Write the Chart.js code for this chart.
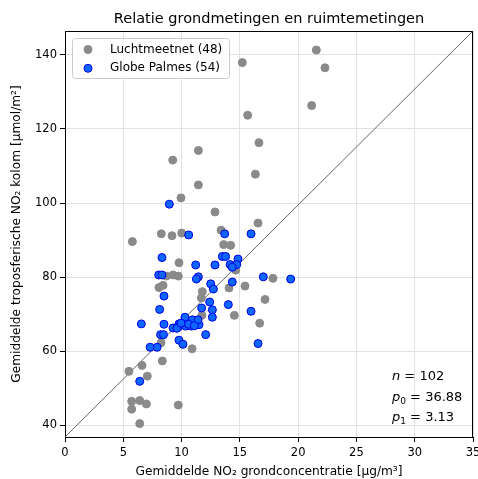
<!DOCTYPE html>
<html>
<head>
<meta charset="utf-8">
<script src="https://cdn.jsdelivr.net/npm/chart.js@4"></script>
<style>
  html,body{margin:0;padding:0;background:#fff;}
  canvas{display:block;}
</style>
</head>
<body>
<canvas id="grafiek" width="478" height="479"></canvas>
<script>
// fit parameters
const p0 = 36.88
const p1 = 3.13
const n = 102

const titel = "Relatie grondmetingen en ruimtemetingen"
const xTicks = [0, 5, 10, 15, 20, 25, 30, 35]
const yTicks = [40, 60, 80, 100, 120, 140]

// Luchtmeetnet (48)
const luchtX = [21.56, 22.3, 15.21, 21.16, 15.67, 16.64, 11.44, 9.24, 16.33, 11.44, 9.95, 12.87, 16.56, 13.39, 8.26, 9.18,
  10.01, 5.78, 13.61, 14.21, 9.78, 8.69, 9.27, 9.72, 14.64, 8.06, 8.41, 11.78, 11.7, 14.07, 15.44, 17.16,
  17.84, 11.75, 14.53, 16.7, 8.24, 10.9, 8.35, 5.49, 6.61, 7.06, 5.72, 5.72, 6.41, 6.98, 9.72, 6.41]
const luchtY = [141.3, 136.5, 137.9, 126.3, 123.7, 116.3, 114.2, 111.6, 107.8, 104.9, 101.4, 97.6, 94.6, 92.7, 91.7, 91.2,
  91.9, 89.6, 88.8, 88.6, 83.9, 80.3, 80.6, 80.3, 81.9, 77.2, 77.8, 76.1, 74.4, 77.1, 77.6, 74.0,
  79.7, 69.7, 69.7, 67.6, 62.3, 60.7, 57.4, 54.6, 56.2, 53.3, 46.5, 44.4, 46.7, 45.8, 45.5, 40.5]

// Globe Palmes (54)
const globeX = [8.95, 10.61, 13.7, 15.96, 8.32, 13.5, 13.78, 14.84, 11.21, 12.87, 14.16, 14.73, 14.35, 8.04, 8.32, 11.44,
  11.27, 17.01, 19.36, 12.5, 14.35, 12.73, 8.49, 12.41, 14.01, 8.12, 11.72, 12.64, 15.96, 12.64, 10.29, 6.55,
  8.49, 9.78, 11.5, 10.93, 11.41, 9.78, 9.27, 10.35, 10.84, 12.07, 8.2, 8.45, 9.78, 10.12, 7.9, 7.3,
  16.56, 6.41, 9.6, 9.95, 10.6, 11.1]
const globeY = [99.7, 91.4, 91.7, 91.7, 85.3, 85.6, 85.6, 84.9, 83.3, 83.3, 83.4, 83.4, 82.7, 80.6, 80.6, 80.1,
  79.5, 80.1, 79.5, 78.2, 78.7, 76.8, 74.9, 73.3, 72.6, 71.3, 71.7, 71.2, 70.8, 69.2, 69.2, 67.4,
  67.3, 67.4, 67.2, 68.5, 68.5, 66.8, 66.3, 66.8, 66.8, 64.5, 64.5, 64.5, 63.0, 61.9, 61.1, 61.1,
  62.1, 51.9, 66.2, 67.6, 67.3, 66.9]

const FONT = "'DejaVu Sans', sans-serif"

function punten(xs, ys){
  return xs.map((x, i) => ({x: x, y: ys[i]}))
}

// title over the plot, frame, legend box and fit text inside the plot
const overlay = {
  id: "overlay",
  afterDraw(chart){
    const ctx = chart.ctx
    const a = chart.chartArea
    ctx.save()

    ctx.fillStyle = "#000"
    ctx.font = "14.5px " + FONT
    ctx.textAlign = "center"
    ctx.textBaseline = "middle"
    ctx.fillText(titel, (a.left + a.right) / 2, a.top - 12)
    ctx.textAlign = "left"

    ctx.strokeStyle = "#000"
    ctx.lineWidth = 1
    ctx.beginPath()
    ctx.moveTo(Math.round(a.left) + 0.5, Math.round(a.top) + 0.5)
    ctx.lineTo(Math.round(a.right) - 0.5, Math.round(a.top) + 0.5)
    ctx.lineTo(Math.round(a.right) - 0.5, Math.round(a.bottom))
    ctx.stroke()

    // legend
    const lx = a.left + 7, ly = a.top + 7
    ctx.fillStyle = "rgba(255,255,255,0.8)"
    ctx.strokeStyle = "#cccccc"
    ctx.beginPath()
    ctx.roundRect(lx + 0.5, ly + 0.5, 157, 40, 3)
    ctx.fill()
    ctx.stroke()
    const sets = chart.data.datasets.filter(d => d.type !== "line")
    ctx.font = "12px " + FONT
    sets.forEach((d, i) => {
      const cy = ly + 11.5 + i * 18.8
      ctx.beginPath()
      ctx.arc(lx + 16, cy, 4, 0, Math.PI * 2)
      ctx.fillStyle = d.backgroundColor
      ctx.fill()
      ctx.strokeStyle = d.borderColor
      ctx.stroke()
      ctx.fillStyle = "#000"
      ctx.fillText(d.label, lx + 38, cy)
    })

    // fit text
    const tx = a.left + 327
    ctx.textBaseline = "alphabetic"
    const regels = [["n", "", " = " + n], ["p", "0", " = " + p0.toFixed(2)], ["p", "1", " = " + p1.toFixed(2)]]
    regels.forEach((r, i) => {
      const by = a.bottom - 57 + i * 20.5
      let x = tx
      ctx.font = "italic 13px " + FONT
      ctx.fillText(r[0], x, by)
      x += ctx.measureText(r[0]).width
      if (r[1]) {
        ctx.font = "9px " + FONT
        ctx.fillText(r[1], x, by + 3)
        x += ctx.measureText(r[1]).width
      }
      ctx.font = "13px " + FONT
      ctx.fillText(r[2], x, by)
    })
    ctx.restore()
  }
}

new Chart(document.querySelector("#grafiek"), {
  type: "scatter",
  data: {
    datasets: [
      {
        label: "Luchtmeetnet (48)",
        data: punten(luchtX, luchtY),
        backgroundColor: "#8a8a8a",
        borderColor: "#8a8a8a",
        borderWidth: 1,
        pointRadius: 4,
        order: 2
      },
      {
        label: "Globe Palmes (54)",
        data: punten(globeX, globeY),
        backgroundColor: "#0d66ff",
        borderColor: "#0000e6",
        borderWidth: 1,
        pointRadius: 4,
        order: 1
      },
      {
        type: "line",
        label: "fit",
        data: [{x: 0, y: p0}, {x: 35, y: p0 + p1 * 35}],
        borderColor: "#555555",
        borderWidth: 0.9,
        pointRadius: 0,
        showLine: true,
        order: 3
      }
    ]
  },
  options: {
    responsive: false,
    animation: false,
    devicePixelRatio: 1,
    layout: {padding: {left: 0, right: 4, top: 31, bottom: 0}},
    plugins: {
      legend: {display: false},
      tooltip: {enabled: false},
      title: {display: false}
    },
    scales: {
      x: {
        type: "linear",
        min: 0,
        max: 35,
        afterBuildTicks: s => { s.ticks = xTicks.map(v => ({value: v})) },
        afterFit: s => { s.height = 42; s.paddingLeft = 0; s.paddingRight = 0 },
        ticks: {color: "#000", font: {family: FONT, size: 11.5}, padding: 4, maxRotation: 0},
        grid: {color: "#e2e2e2", tickColor: "#000", tickLength: 5},
        border: {color: "#000"},
        title: {
          display: true,
          text: "Gemiddelde NO₂ grondconcentratie [μg/m³]",
          color: "#000",
          font: {family: FONT, size: 12.2},
          padding: {top: 2, bottom: 0}
        }
      },
      y: {
        type: "linear",
        min: p0,
        max: p0 + p1 * 35,
        afterBuildTicks: s => { s.ticks = yTicks.map(v => ({value: v})) },
        afterFit: s => { s.width = 65; s.paddingTop = 0; s.paddingBottom = 0 },
        ticks: {color: "#000", font: {family: FONT, size: 11.5}, padding: 3},
        grid: {color: "#e2e2e2", tickColor: "#000", tickLength: 5},
        border: {color: "#000"},
        title: {
          display: true,
          text: "Gemiddelde troposferische NO₂ kolom [μmol/m²]",
          color: "#000",
          font: {family: FONT, size: 12.2},
          padding: {top: 10, bottom: 2}
        }
      }
    }
  },
  plugins: [overlay]
})
</script>
</body>
</html>
